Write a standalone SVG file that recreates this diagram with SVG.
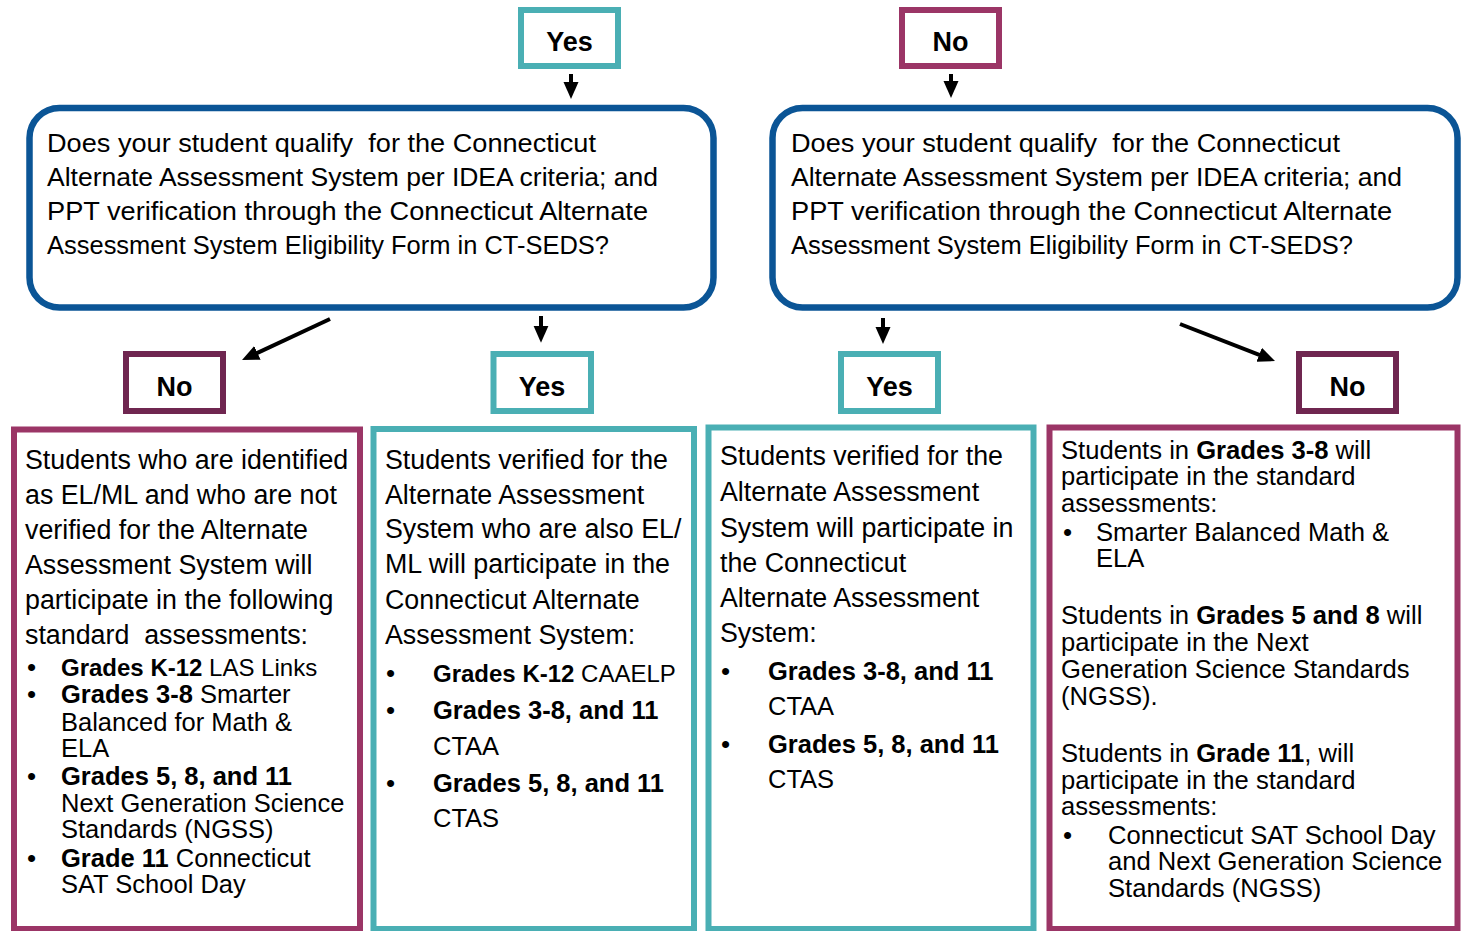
<svg xmlns="http://www.w3.org/2000/svg" width="1468" height="931" viewBox="0 0 1468 931">
<style>
text{font-family:"Liberation Sans",Arial,sans-serif;fill:#000}
.q{font-size:26.5px}
.b{font-size:26.8px}
.s{font-size:25.5px}
.s2{font-size:24px}
.r{font-size:25.6px}
.bold{font-weight:bold}
.lab{font-size:27px;font-weight:bold;text-anchor:middle}
.bt{font-size:26px}
.teal{fill:#fff;stroke:#4AAFB4;stroke-width:6}
.mag{fill:#fff;stroke:#9B3566;stroke-width:6}
.dmag{fill:#fff;stroke:#6F2650;stroke-width:6}
.blue{fill:#fff;stroke:#0B5596;stroke-width:6.5}
.arr{stroke:#000;stroke-width:4;fill:none;marker-end:url(#ah)}
</style>
<defs>
<marker id="ah" markerUnits="userSpaceOnUse" markerWidth="18" markerHeight="18" viewBox="0 0 18 18" refX="7" refY="9" orient="auto">
<path d="M0,1.5 L17,9 L0,16.5 Z" fill="#000"/>
</marker>
</defs>
<rect width="1468" height="931" fill="#fff"/>

<g id="connectors">
<path class="arr" d="M571,74 L571,89"/>
<path class="arr" d="M951,74 L951,88"/>
<path class="arr" d="M330,319 L251.1,355.8"/>
<path class="arr" d="M541,316 L541,332.7"/>
<path class="arr" d="M883,318 L883,334"/>
<path class="arr" d="M1180,324 L1265.7,357.4"/>
</g>

<g id="top-yes">
<rect class="teal" x="521" y="10" width="97" height="56"/>
<text class="lab" x="569.5" y="51">Yes</text>
</g>
<g id="top-no">
<rect class="mag" x="902" y="10" width="97" height="56"/>
<text class="lab" x="950.5" y="51">No</text>
</g>

<g id="question-left">
<rect class="blue" x="29.5" y="108" width="684" height="199.5" rx="30" ry="30"/>
<text class="q" x="47" y="152" textLength="549" lengthAdjust="spacingAndGlyphs">Does your student qualify&#160; for the Connecticut</text>
<text class="q" x="47" y="186" textLength="611" lengthAdjust="spacingAndGlyphs">Alternate Assessment System per IDEA criteria; and</text>
<text class="q" x="47" y="220" textLength="601" lengthAdjust="spacingAndGlyphs">PPT verification through the Connecticut Alternate</text>
<text class="q" x="47" y="254" textLength="562" lengthAdjust="spacingAndGlyphs">Assessment System Eligibility Form in CT-SEDS?</text>
</g>
<g id="question-right">
<rect class="blue" x="772.5" y="108" width="685" height="199.5" rx="30" ry="30"/>
<text class="q" x="791" y="152" textLength="549" lengthAdjust="spacingAndGlyphs">Does your student qualify&#160; for the Connecticut</text>
<text class="q" x="791" y="186" textLength="611" lengthAdjust="spacingAndGlyphs">Alternate Assessment System per IDEA criteria; and</text>
<text class="q" x="791" y="220" textLength="601" lengthAdjust="spacingAndGlyphs">PPT verification through the Connecticut Alternate</text>
<text class="q" x="791" y="254" textLength="562" lengthAdjust="spacingAndGlyphs">Assessment System Eligibility Form in CT-SEDS?</text>
</g>

<g id="left-no">
<rect class="dmag" x="126" y="354" width="97" height="57"/>
<text class="lab" x="174.5" y="396">No</text>
</g>
<g id="left-yes">
<rect class="teal" x="493.5" y="354" width="97.5" height="57"/>
<text class="lab" x="542" y="396">Yes</text>
</g>
<g id="right-yes">
<rect class="teal" x="841" y="354" width="97" height="57"/>
<text class="lab" x="889.5" y="396">Yes</text>
</g>
<g id="right-no">
<rect class="dmag" x="1299" y="354" width="97" height="57"/>
<text class="lab" x="1347.5" y="396">No</text>
</g>

<g id="outcome-1">
<rect class="mag" x="14" y="429.5" width="346" height="499.5"/>
<text class="b" x="25" y="469">Students who are identified</text>
<text class="b" x="25" y="504">as EL/ML and who are not</text>
<text class="b" x="25" y="539">verified for the Alternate</text>
<text class="b" x="25" y="574">Assessment System will</text>
<text class="b" x="25" y="609">participate in the following</text>
<text class="b" x="25" y="644">standard&#160; assessments:</text>
<text class="s2" y="675.5"><tspan class="bt" x="27">•</tspan><tspan x="61" class="bold">Grades K-12</tspan> LAS Links</text>
<text class="s" y="703"><tspan class="bt" x="27">•</tspan><tspan x="61" class="bold">Grades 3-8</tspan> Smarter</text>
<text class="s" x="61" y="731">Balanced for Math &amp;</text>
<text class="s" x="61" y="757">ELA</text>
<text class="s" y="785"><tspan class="bt" x="27">•</tspan><tspan x="61" class="bold">Grades 5, 8, and 11</tspan></text>
<text class="s" x="61" y="812">Next Generation Science</text>
<text class="s" x="61" y="838">Standards (NGSS)</text>
<text class="s" y="867"><tspan class="bt" x="27">•</tspan><tspan x="61" class="bold">Grade 11</tspan> Connecticut</text>
<text class="s" x="61" y="893">SAT School Day</text>
</g>

<g id="outcome-2">
<rect class="teal" x="373.5" y="429" width="320.5" height="500"/>
<text class="b" x="385" y="469">Students verified for the</text>
<text class="b" x="385" y="504">Alternate Assessment</text>
<text class="b" x="385" y="538">System who are also EL/</text>
<text class="b" x="385" y="573">ML will participate in the</text>
<text class="b" x="385" y="609">Connecticut Alternate</text>
<text class="b" x="385" y="644">Assessment System:</text>
<text class="s2" y="682"><tspan class="bt" x="386">•</tspan><tspan x="433" class="bold">Grades K-12</tspan> CAAELP</text>
<text class="s" y="719"><tspan class="bt" x="386">•</tspan><tspan x="433" class="bold">Grades 3-8, and 11</tspan></text>
<text class="s" x="433" y="755">CTAA</text>
<text class="s" y="792"><tspan class="bt" x="386">•</tspan><tspan x="433" class="bold">Grades 5, 8, and 11</tspan></text>
<text class="s" x="433" y="827">CTAS</text>
</g>

<g id="outcome-3">
<rect class="teal" x="708.5" y="427.5" width="325" height="501.5"/>
<text class="b" x="720" y="465">Students verified for the</text>
<text class="b" x="720" y="501">Alternate Assessment</text>
<text class="b" x="720" y="537">System will participate in</text>
<text class="b" x="720" y="572">the Connecticut</text>
<text class="b" x="720" y="607">Alternate Assessment</text>
<text class="b" x="720" y="642">System:</text>
<text class="s" y="680"><tspan class="bt" x="721">•</tspan><tspan x="768" class="bold">Grades 3-8, and 11</tspan></text>
<text class="s" x="768" y="715">CTAA</text>
<text class="s" y="753"><tspan class="bt" x="721">•</tspan><tspan x="768" class="bold">Grades 5, 8, and 11</tspan></text>
<text class="s" x="768" y="788">CTAS</text>
</g>

<g id="outcome-4">
<rect class="mag" x="1049.5" y="427.5" width="408" height="501.5"/>
<text class="r" x="1061" y="459">Students in <tspan class="bold">Grades 3-8</tspan> will</text>
<text class="r" x="1061" y="485">participate in the standard</text>
<text class="r" x="1061" y="512">assessments:</text>
<text class="r" y="541"><tspan class="bt" x="1063">•</tspan><tspan x="1096">Smarter Balanced Math &amp;</tspan></text>
<text class="r" x="1096" y="567">ELA</text>
<text class="r" x="1061" y="624">Students in <tspan class="bold">Grades 5 and 8</tspan> will</text>
<text class="r" x="1061" y="651">participate in the Next</text>
<text class="r" x="1061" y="678">Generation Science Standards</text>
<text class="r" x="1061" y="705">(NGSS).</text>
<text class="r" x="1061" y="762">Students in <tspan class="bold">Grade 11</tspan>, will</text>
<text class="r" x="1061" y="789">participate in the standard</text>
<text class="r" x="1061" y="815">assessments:</text>
<text class="r" y="844"><tspan class="bt" x="1063">•</tspan><tspan x="1108">Connecticut SAT School Day</tspan></text>
<text class="r" x="1108" y="870">and Next Generation Science</text>
<text class="r" x="1108" y="897">Standards (NGSS)</text>
</g>
</svg>
